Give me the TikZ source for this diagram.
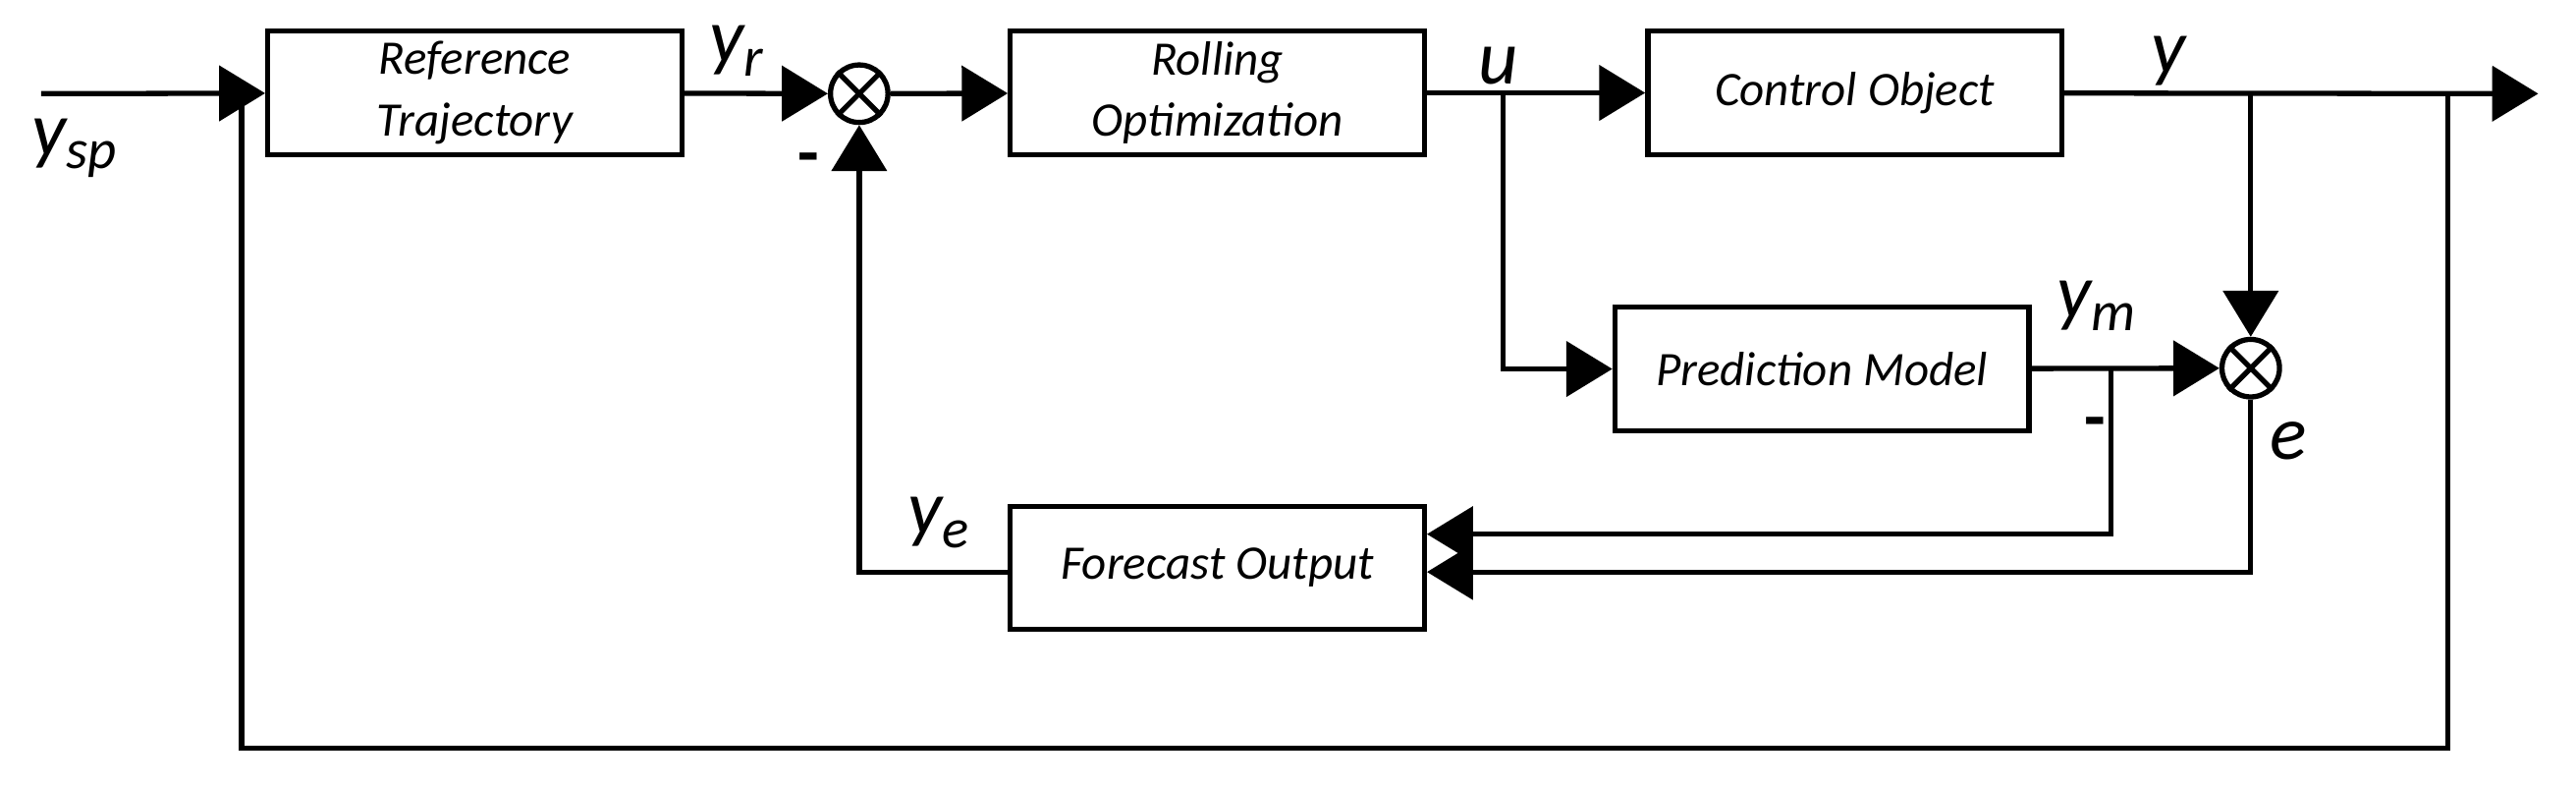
\documentclass[tikz,border=0pt]{standalone}
\usepackage{fontspec}
\setmainfont{Carlito}
\usetikzlibrary{arrows.meta}
\begin{document}
\begin{tikzpicture}[x=0.03cm,y=-0.03cm,line width=2.7pt,
  box/.style={draw,rectangle,minimum width=7.56cm,minimum height=2.25cm,font=\fontsize{25}{30}\selectfont\itshape,align=center,inner sep=0pt},
  sum/.style={draw,circle,minimum size=1.05cm,inner sep=0pt},
  lab/.style={font=\fontsize{40}{40}\selectfont\itshape,inner sep=0pt},
  arr/.style={-{Triangle[length=0.84cm,width=1.0cm]}}]
\useasboundingbox (0,0) rectangle (1568,478);
\node[box] (ref) at (289,56.5) {Reference\\[2pt]Trajectory};
\node[box] (rol) at (741,56.5) {Rolling\\[2pt]Optimization};
\node[box] (ctl) at (1129,56.5) {Control Object};
\node[box] (pm) at (1109,224.5) {Prediction Model};
\node[box] (fo) at (741,345.5) {Forecast Output};
\node[sum] (s1) at (523,57) {};
\node[sum] (s2) at (1370,224) {};
\foreach \s in {s1,s2}{\draw (\s.north west)--(\s.south east) (\s.north east)--(\s.south west);}
\coordinate (in) at (25,57);
\coordinate (out) at (1545,57);
\coordinate (bu) at (915,57);
\coordinate (by) at (1370,57);
\coordinate (bf) at (1490,57);
\coordinate (bm) at (1285,224);
\draw[arr] (in) -- (ref);
\draw[arr] (ref) -- (s1);
\draw[arr] (s1) -- (rol);
\draw[arr] (rol) -- (ctl);
\draw[arr] (ctl) -- (out);
\draw[arr] (bu) |- (pm);
\draw[arr] (by) -- (s2);
\draw[arr] (pm) -- (s2);
\draw[arr] (bm) |- (fo.east |- 0,325);
\draw[arr] (s2) |- (fo.east |- 0,348);
\draw[arr] (fo.west |- 0,348) -| (s1);
\draw (bf) |- (147,455) -- (147,57);
\node[lab] at (45,90) {y\raisebox{-0.35ex}{\fontsize{29}{29}\selectfont sp}};
\node[lab] at (448,31) {y\raisebox{-0.35ex}{\fontsize{29}{29}\selectfont r}};
\node[lab] at (912,40) {u};
\node[lab] at (1320,37) {y};
\node[lab] at (1276,186) {y\raisebox{-0.35ex}{\fontsize{29}{29}\selectfont m}};
\node[lab] at (1393,268) {e};
\node[lab] at (571,318) {y\raisebox{-0.35ex}{\fontsize{29}{29}\selectfont e}};
\node[font=\fontsize{36}{36}\selectfont\bfseries] at (492,100) {-};
\node[font=\fontsize{36}{36}\selectfont\bfseries] at (1275,261) {-};
\end{tikzpicture}
\end{document}
